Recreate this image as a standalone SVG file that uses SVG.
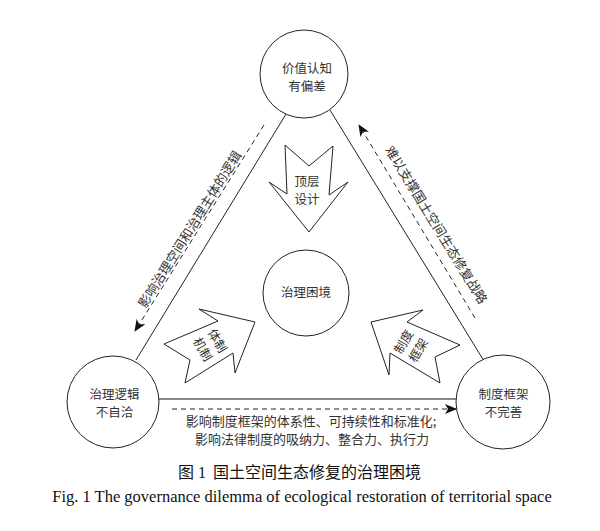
<svg xmlns="http://www.w3.org/2000/svg" width="600" height="531" viewBox="0 0 600 531">
<style>
.node{fill:#fff;stroke:#222;stroke-width:1}
.blk{fill:#fff;stroke:#222;stroke-width:1;stroke-linejoin:miter}
.t{font-family:"Noto Sans CJK SC",sans-serif;font-size:12.5px;fill:#333;text-anchor:middle}
.edge{stroke:#222;stroke-width:1;fill:none}
.dash{stroke:#222;stroke-width:1;fill:none;stroke-dasharray:5 4}
.cap{font-family:"Liberation Serif","Noto Sans CJK SC",serif;fill:#111}
</style>
<defs>
<marker id="ah" markerUnits="userSpaceOnUse" markerWidth="12" markerHeight="10" refX="11" refY="5" orient="auto">
<path d="M0,0 L12,5 L0,10 L3,5 Z" fill="#111"/>
</marker>
</defs>
<rect width="600" height="531" fill="#fff"/>
<g id="connectors">
<line class="edge" x1="286" y1="114" x2="136" y2="360"/>
<line class="edge" x1="330" y1="110" x2="484" y2="361"/>
<line x1="159" y1="399" x2="457" y2="399" stroke="#8a8a8a" stroke-width="2"/>
<line class="dash" x1="264" y1="125" x2="135" y2="331" marker-end="url(#ah)"/>
<line class="dash" x1="475" y1="318" x2="359" y2="125" marker-end="url(#ah)"/>
<line class="dash" x1="172" y1="409" x2="456" y2="409" marker-end="url(#ah)"/>
<text class="t" transform="translate(190,229.5) rotate(-58)" y="4.5" style="font-size:13px">影响治理空间和治理主体的逻辑</text>
<text class="t" transform="translate(436,225) rotate(58.5)" y="4.5" style="font-size:13px">难以支撑国土空间生态修复战略</text>
<text class="t" x="311" y="426" style="font-size:13px">影响制度框架的体系性、可持续性和标准化;</text>
<text class="t" x="312" y="443.5" style="font-size:13px">影响法律制度的吸纳力、整合力、执行力</text>
</g>
<g id="top">
<circle class="node" cx="304" cy="74" r="44"/>
<text class="t" x="307" y="73">价值认知</text>
<text class="t" x="307" y="90.5">有偏差</text>
</g>
<g id="center">
<circle class="node" cx="306" cy="293" r="43"/>
<text class="t" x="306" y="297">治理困境</text>
</g>
<g id="left">
<circle class="node" cx="113" cy="402" r="46"/>
<text class="t" x="114.5" y="399">治理逻辑</text>
<text class="t" x="114.5" y="416.5">不自洽</text>
</g>
<g id="right">
<circle class="node" cx="503" cy="402" r="47"/>
<text class="t" x="503.5" y="399">制度框架</text>
<text class="t" x="503.5" y="416.5">不完善</text>
</g>
<g id="arrow-top">
<polygon class="blk" points="285,145 309,166 333,146 329,195 348,182 309,232 269,182 287,194"/>
<text class="t" x="307" y="186">顶层</text>
<text class="t" x="307" y="203.5">设计</text>
</g>
<g id="arrow-left">
<polygon class="blk" points="255,322 199,309 218,321 164,344 190,360 185,383 233,353 235,373"/>
<g transform="translate(210,345) rotate(60)">
<text class="t" x="0" y="-4">体制</text>
<text class="t" x="0" y="13">机制</text>
</g>
</g>
<g id="arrow-right">
<polygon class="blk" points="371,322 423,310 407,322 460,345 435,357 440,383 390,353 389,375"/>
<g transform="translate(411,346) rotate(-60)">
<text class="t" x="0" y="-4">制度</text>
<text class="t" x="0" y="13">框架</text>
</g>
</g>
<g id="caption">
<text class="cap" x="178" y="478" font-size="16">图 1</text>
<text class="cap" x="213" y="478" font-size="16">国土空间生态修复的治理困境</text>
<text class="cap" x="302" y="502" font-size="16.5" text-anchor="middle">Fig. 1 The governance dilemma of ecological restoration of territorial space</text>
</g>
</svg>
